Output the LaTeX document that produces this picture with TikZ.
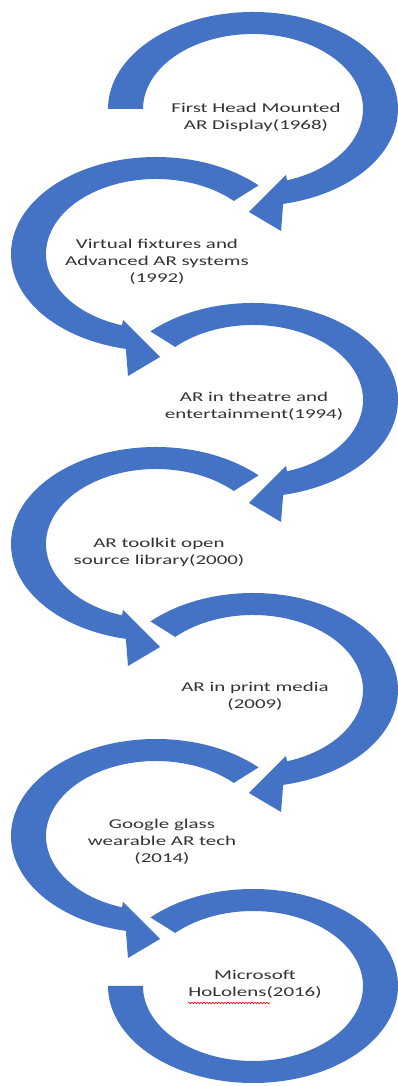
\documentclass[tikz,border=0pt]{standalone}
\usepackage{fontspec}
\setmainfont{Carlito}
\usetikzlibrary{calc,decorations.pathmorphing}
\definecolor{arcblue}{HTML}{4472C4}
\tikzset{
  rring/.pic={
    \fill[arcblue] (#1:145 and 97)
      arc[start angle=#1, end angle=-78, x radius=145, y radius=97]
      -- (28,-122) -- (-4,-103) -- (33,-66) -- (-72:110 and 75)
      arc[start angle=-72, end angle=#1, x radius=110, y radius=75] -- cycle;
  },
  lring/.pic={
    \fill[arcblue] (45:145 and 97)
      arc[start angle=45, end angle=258, x radius=145, y radius=97]
      -- (-28,-122) -- (4,-103) -- (-33,-66) -- (252:110 and 75)
      arc[start angle=252, end angle=45, x radius=110, y radius=75] -- cycle;
  },
  endring/.pic={
    \fill[arcblue] (135:145 and 97)
      arc[start angle=135, end angle=-180, x radius=145, y radius=97]
      -- (-110,0)
      arc[start angle=-180, end angle=135, x radius=110, y radius=75] -- cycle;
  }
}
\begin{document}
\begin{tikzpicture}[x=1pt,y=1pt,
  lbl/.style={font=\fontsize{13.5}{17}\selectfont, text=black!80, align=center,
              xscale=1.55, transform shape, inner sep=0pt}]
\fill[white] (0,0) rectangle (398,1086);
\useasboundingbox (0,0) rectangle (398,1086);
\coordinate (c1) at (253,977);
\coordinate (c2) at (156,832);
\coordinate (c3) at (253,686);
\coordinate (c4) at (156,542);
\coordinate (c5) at (253,396);
\coordinate (c6) at (156,250);
\coordinate (c7) at (253,100);
\pic at (c1) {rring=180};
\pic at (c2) {lring};
\pic at (c3) {rring=135};
\pic at (c4) {lring};
\pic at (c5) {rring=135};
\pic at (c6) {lring};
\pic at (c7) {endring};
\node[lbl] (t1) at (256,969) {First Head Mounted\\AR Display(1968)};
\node[lbl] (t2) at (157,824) {Virtual fixtures and\\Advanced AR systems\\(1992)};
\node[lbl] (t3) at (254,680) {AR in theatre and\\entertainment(1994)};
\node[lbl] (t4) at (159,534) {AR toolkit open\\source library(2000)};
\node[lbl] (t5) at (255,390) {AR in print media\\(2009)};
\node[lbl] (t6) at (162,244) {Google glass\\wearable AR tech\\(2014)};
\node[lbl] (t7) at (255,102) {Microsoft\\HoLolens(2016)};
\coordinate (sq1) at (188,83);
\coordinate (sq2) at (270,83);
\draw[red, line width=0.6pt, decorate, decoration={snake, amplitude=0.8pt, segment length=3pt}] (sq1) -- (sq2);
\end{tikzpicture}
\end{document}
